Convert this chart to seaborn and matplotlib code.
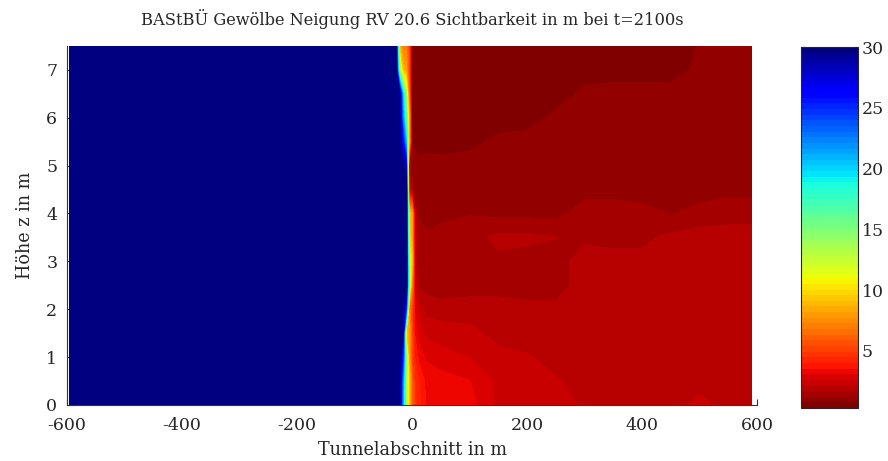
import numpy as np
import matplotlib
matplotlib.use("Agg")
import matplotlib.pyplot as plt
import seaborn as sns
from matplotlib.colors import ListedColormap, Normalize
from matplotlib.cm import ScalarMappable

# Tunnel position (m) of each grid column and height (m) of each grid row
x_pos = [-595, -28, -22, -16, -10, -5, 0, 5, 12, 25, 50, 100, 150, 200,
         250, 300, 350, 400, 450, 500, 550, 591]
z_pos = [0.0, 0.5, 1.0, 1.5, 2.0, 2.5, 3.0, 3.5, 4.0, 4.5, 5.0, 5.5, 6.0,
         6.5, 7.0, 7.5]

# visibility in m, one list per height (bottom to top)
vis_z00 = [30, 30, 30, 21, 13, 9, 6, 4.6, 4.2, 3.5, 3.4, 3.3, 2.5, 2.4, 2.3, 2.1, 2.1, 2.0, 2.1, 2.2, 2.1, 2.1]
vis_z05 = [30, 30, 30, 22, 13, 9, 6, 4.5, 4.0, 3.4, 3.3, 3.1, 2.5, 2.4, 2.2, 2.0, 2.1, 2.0, 2.0, 2.1, 2.1, 2.1]
vis_z10 = [30, 30, 30, 25, 14, 8, 5, 4.0, 3.4, 3.0, 2.8, 2.6, 2.3, 2.2, 2.0, 1.9, 2.0, 1.9, 1.9, 2.0, 2.0, 2.1]
vis_z15 = [30, 30, 30, 30, 9, 8, 5, 3.5, 2.8, 2.5, 2.4, 2.3, 2.0, 1.9, 1.9, 1.8, 1.9, 1.9, 1.9, 2.0, 2.0, 2.0]
vis_z20 = [30, 30, 30, 30, 24, 7, 5, 3.0, 2.4, 2.0, 1.9, 1.9, 1.9, 1.8, 1.8, 1.9, 1.9, 1.9, 1.9, 2.0, 2.0, 2.0]
vis_z25 = [30, 30, 30, 30, 30, 13, 7, 2.5, 1.6, 1.5, 1.4, 1.5, 1.5, 1.5, 1.5, 1.9, 1.9, 1.9, 1.9, 1.9, 1.9, 1.9]
vis_z30 = [30, 30, 30, 30, 30, 12, 9, 2.2, 1.5, 1.4, 1.4, 1.5, 1.6, 1.5, 1.5, 1.9, 1.9, 1.8, 1.9, 1.9, 2.0, 2.0]
vis_z35 = [30, 30, 30, 30, 30, 10, 8, 2.0, 1.4, 1.3, 1.4, 1.5, 1.8, 1.8, 1.7, 1.6, 1.5, 1.6, 1.8, 1.9, 1.9, 1.9]
vis_z40 = [30, 30, 30, 30, 30, 9, 8, 2.0, 1.2, 1.0, 1.1, 1.2, 1.1, 1.1, 1.1, 1.4, 1.4, 1.4, 1.2, 1.4, 1.5, 1.5]
vis_z45 = [30, 30, 30, 30, 30, 3, 1.5, 1.0, 1.0, 0.9, 1.0, 1.0, 1.0, 1.0, 1.0, 1.1, 1.1, 1.0, 1.0, 1.0, 1.1, 1.1]
vis_z50 = [30, 30, 30, 30, 27, 1.5, 1.0, 1.0, 0.9, 0.9, 0.9, 1.0, 1.0, 1.0, 1.0, 1.0, 1.0, 1.0, 1.0, 1.0, 1.0, 1.0]
vis_z55 = [30, 30, 30, 26, 20, 8, 0.8, 0.6, 0.6, 0.6, 0.6, 0.6, 0.9, 1.0, 1.0, 1.0, 1.0, 1.0, 1.0, 1.0, 1.0, 1.0]
vis_z60 = [30, 30, 30, 22, 16, 8, 0.6, 0.5, 0.5, 0.5, 0.5, 0.5, 0.5, 0.5, 0.9, 1.0, 1.0, 1.0, 1.0, 1.0, 1.0, 1.0]
vis_z65 = [30, 30, 30, 20, 13, 6, 0.5, 0.5, 0.5, 0.5, 0.5, 0.5, 0.5, 0.5, 0.5, 0.9, 1.0, 1.0, 1.0, 1.0, 1.0, 1.0]
vis_z70 = [30, 30, 14, 9, 8, 5, 0.5, 0.5, 0.5, 0.5, 0.5, 0.5, 0.5, 0.5, 0.5, 0.5, 0.5, 0.5, 0.5, 0.9, 1.0, 1.0]
vis_z75 = [30, 30, 9, 7, 7, 5, 0.5, 0.5, 0.5, 0.5, 0.5, 0.5, 0.5, 0.5, 0.5, 0.5, 0.5, 0.5, 0.5, 0.8, 1.0, 1.0]

cbar_ticks = [5, 10, 15, 20, 25, 30]
x_ticks = [-600, -400, -200, 0, 200, 400, 600]
z_ticks = [0, 1, 2, 3, 4, 5, 6, 7]

sns.set_style("ticks")
plt.rcParams['font.family'] = ['DejaVu Serif']
plt.rcParams['axes.unicode_minus'] = False

vis = np.array([vis_z00, vis_z05, vis_z10, vis_z15, vis_z20, vis_z25, vis_z30, vis_z35,
                vis_z40, vis_z45, vis_z50, vis_z55, vis_z60, vis_z65, vis_z70, vis_z75])

vmin, vmax = 0.3, 30
cmap = ListedColormap(matplotlib.colormaps['jet_r'].resampled(64)(np.linspace(0, 1, 64)))
levels = np.linspace(vmin, vmax, 65)

fig = plt.figure(figsize=(8.88, 4.61), dpi=100)
ax = fig.add_axes([0.0755, 0.1215, 0.777, 0.779])
cax = fig.add_axes([0.902, 0.115, 0.064, 0.783])

X, Z = np.meshgrid(x_pos, z_pos)
ax.contourf(X, Z, vis, levels=levels, cmap=cmap, vmin=vmin, vmax=vmax)

ax.set_xlim(-600, 600)
ax.set_ylim(0, 7.5)
ax.set_xticks(x_ticks)
ax.set_yticks(z_ticks)
ax.tick_params(direction='in', length=4, labelsize=12.5, top=False, right=False,
               color='#333333')
ax.tick_params(axis='x', pad=9)
ax.tick_params(axis='y', pad=7)
sns.despine(ax=ax)
for s in ['left', 'bottom']:
    ax.spines[s].set_color('#333333')
    ax.spines[s].set_linewidth(0.8)

ax.set_title("BAStBÜ Gewölbe Neigung RV 20.6 Sichtbarkeit in m bei t=2100s",
             fontsize=11.7, pad=15)
ax.set_xlabel("Tunnelabschnitt in m", fontsize=12.7, labelpad=5)
ax.set_ylabel("Höhe z in m", fontsize=12.7, labelpad=9)

sm = ScalarMappable(norm=Normalize(vmin, vmax), cmap=cmap)
cb = fig.colorbar(sm, cax=cax)
cb.set_ticks(cbar_ticks)
cb.outline.set_linewidth(0.8)
cax.tick_params(direction='in', length=3, labelsize=12.5, left=True, right=True,
                labelleft=False, labelright=True, pad=3)

fig.savefig("out.png", dpi=100)
